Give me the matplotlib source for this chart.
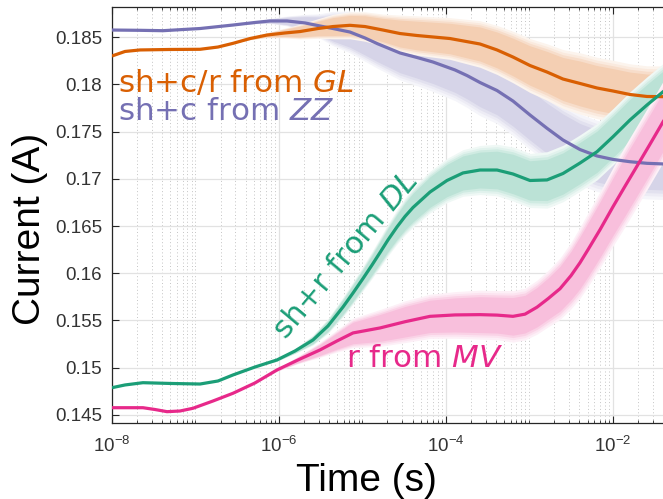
import numpy as np
import matplotlib
matplotlib.use("Agg")
import matplotlib.pyplot as plt
from matplotlib.ticker import FixedLocator, LogLocator, LogFormatterSciNotation, NullFormatter, FixedFormatter
from matplotlib.colors import to_rgb

plt.rcParams['mathtext.fontset'] = 'custom'
plt.rcParams['mathtext.rm'] = 'DejaVu Sans'
plt.rcParams['mathtext.it'] = 'DejaVu Sans:italic'

# ---- sh+c/r from GL (orange) ----
gl_logt = [-8.000, -7.844, -7.664, -7.305, -6.945, -6.730, -6.550, -6.346, -6.142, -5.927,
           -5.747, -5.532, -5.352, -5.149, -4.969, -4.753, -4.549, -4.345, -3.950, -3.590,
           -3.386, -3.195, -2.991, -2.787, -2.596, -2.392, -2.188, -1.996, -1.793, -1.589, -1.380]
gl_cur = [0.18302, 0.18350, 0.18366, 0.18371, 0.18373, 0.18397, 0.18436, 0.18487, 0.18524, 0.18546,
          0.18561, 0.18593, 0.18614, 0.18627, 0.18614, 0.18577, 0.18540, 0.18519, 0.18487, 0.18429,
          0.18366, 0.18291, 0.18201, 0.18132, 0.18058, 0.18011, 0.17963, 0.17931, 0.17894, 0.17873, 0.17871]
gl_spread = [0, 0, 0, 0, 0, 0, 0, 0.0001, 0.0002, 0.0004,
             0.0006, 0.0008, 0.0010, 0.0011, 0.0012, 0.0013, 0.0015, 0.0016, 0.0017, 0.0019,
             0.0020, 0.0021, 0.0022, 0.0023, 0.0024, 0.0025, 0.0025, 0.0025, 0.0025, 0.0025, 0.0025]

# ---- sh+c from ZZ (purple) ----
zz_logt = [-8.000, -7.664, -7.389, -6.945, -6.550, -6.287, -6.107, -5.903, -5.687, -5.508,
           -5.352, -5.149, -4.969, -4.824, -4.549, -4.345, -4.153, -3.890, -3.746, -3.590,
           -3.386, -3.195, -2.991, -2.787, -2.596, -2.392, -2.188, -1.996, -1.793, -1.589, -1.380]
zz_cur = [0.18577, 0.18574, 0.18570, 0.18593, 0.18630, 0.18657, 0.18673, 0.18673, 0.18652, 0.18620,
          0.18593, 0.18556, 0.18493, 0.18434, 0.18334, 0.18286, 0.18238, 0.18154, 0.18095, 0.18021,
          0.17936, 0.17825, 0.17677, 0.17536, 0.17412, 0.17311, 0.17243, 0.17206, 0.17182, 0.17165, 0.17158]
zz_spread = [0, 0, 0, 0, 0, 0.0001, 0.0002, 0.0004, 0.0007, 0.0010,
             0.0014, 0.0017, 0.0019, 0.0020, 0.0022, 0.0023, 0.0024, 0.0025, 0.0026, 0.0027,
             0.0027, 0.0028, 0.0028, 0.0028, 0.0029, 0.0029, 0.0029, 0.0029, 0.0029, 0.0029, 0.0029]

# ---- sh+r from DL (green) ----
dl_logt = [-8.000, -7.844, -7.629, -7.305, -6.945, -6.730, -6.550, -6.287, -6.023, -5.807,
           -5.592, -5.412, -5.232, -5.112, -4.992, -4.884, -4.788, -4.693, -4.585, -4.489,
           -4.393, -4.189, -3.986, -3.794, -3.590, -3.386, -3.195, -2.991, -2.787, -2.596,
           -2.392, -2.188, -1.996, -1.793, -1.589, -1.380]
dl_cur = [0.14788, 0.14817, 0.14841, 0.14833, 0.14827, 0.14859, 0.14923, 0.15007, 0.15082, 0.15177,
          0.15293, 0.15442, 0.15643, 0.15791, 0.15945, 0.16088, 0.16220, 0.16353, 0.16491, 0.16602,
          0.16697, 0.16861, 0.16983, 0.17063, 0.17094, 0.17094, 0.17052, 0.16983, 0.16989, 0.17057,
          0.17168, 0.17288, 0.17447, 0.17624, 0.17783, 0.17935]
dl_spread = [0, 0, 0, 0, 0, 0, 0, 0, 0.0001, 0.0002,
             0.0004, 0.0006, 0.0008, 0.0009, 0.0010, 0.0011, 0.0012, 0.0013, 0.0014, 0.0015,
             0.0016, 0.0017, 0.0018, 0.0019, 0.0020, 0.0021, 0.0022, 0.0022, 0.0023, 0.0023,
             0.0023, 0.0023, 0.0023, 0.0023, 0.0023, 0.0023]

# ---- r from MV (pink) ----
mv_logt = [-8.000, -7.784, -7.629, -7.485, -7.341, -7.185, -7.030, -6.790, -6.550, -6.287,
           -6.023, -5.771, -5.508, -5.304, -5.112, -4.788, -4.488, -4.189, -3.889, -3.590,
           -3.386, -3.195, -3.051, -2.907, -2.775, -2.631, -2.500, -2.392, -2.296, -2.152,
           -1.996, -1.852, -1.709, -1.553, -1.380]
mv_cur = [0.14576, 0.14576, 0.14576, 0.14557, 0.14534, 0.14541, 0.14570, 0.14647, 0.14729, 0.14838,
          0.14976, 0.15082, 0.15188, 0.15283, 0.15368, 0.15421, 0.15487, 0.15544, 0.15559, 0.15562,
          0.15557, 0.15544, 0.15567, 0.15641, 0.15731, 0.15837, 0.15975, 0.16112, 0.16250, 0.16462,
          0.16706, 0.16923, 0.17135, 0.17368, 0.17630]
mv_spread = [0, 0, 0, 0, 0, 0, 0, 0, 0, 0,
             0.0001, 0.0003, 0.0006, 0.0009, 0.0012, 0.0015, 0.0017, 0.0018, 0.0019, 0.0020,
             0.0020, 0.0021, 0.0021, 0.0022, 0.0023, 0.0025, 0.0027, 0.0029, 0.0030, 0.0031,
             0.0032, 0.0033, 0.0033, 0.0033, 0.0033]

col_gl = '#d95f02'
col_zz = '#7570b3'
col_dl = '#1b9e77'
col_mv = '#e7298a'

yticks = [0.145, 0.15, 0.155, 0.16, 0.165, 0.17, 0.175, 0.18, 0.185]
ytick_labels = ['0.145', '0.15', '0.155', '0.16', '0.165', '0.17', '0.175', '0.18', '0.185']
xticks = [1e-8, 1e-6, 1e-4, 1e-2]


def tint(c, a):
    rgb = np.array(to_rgb(c))
    return tuple(a * rgb + (1 - a))


fig = plt.figure(figsize=(6.63, 4.99), dpi=100)
ax = fig.add_axes([112 / 663, 76 / 499, 558 / 663, 416 / 499])

ax.set_xscale('log')
ax.set_xlim(1e-8, 10 ** -1.3134)
ax.set_ylim(0.14414, 0.18821)

# grids
ax.grid(True, which='major', color='#e2e2e2', linewidth=0.9, linestyle='-', zorder=0)
ax.xaxis.grid(True, which='minor', color='#c4c4c4', linewidth=0.7, linestyle=(0, (1, 2.5)), zorder=0)
ax.set_axisbelow(True)

series = [
    (zz_logt, zz_cur, zz_spread, col_zz),
    (gl_logt, gl_cur, gl_spread, col_gl),
    (dl_logt, dl_cur, dl_spread, col_dl),
    (mv_logt, mv_cur, mv_spread, col_mv),
]

# scatter envelopes: graded halo fading out to the dense core
halo = [(1.30, 0.07), (1.18, 0.13), (1.07, 0.21), (0.95, 0.30)]
for k, (lt, cur, sp, c) in enumerate(series):
    t = 10.0 ** np.array(lt)
    cur = np.array(cur)
    sp = np.array(sp)
    for j, (f, a) in enumerate(halo):
        ax.fill_between(t, cur - f * sp, cur + f * sp, color=tint(c, a),
                        linewidth=0, zorder=1 + k * 0.1 + j * 0.01)

for lt, cur, sp, c in series:
    ax.plot(10.0 ** np.array(lt), cur, color=c, linewidth=2.3, zorder=3,
            solid_capstyle='butt', solid_joinstyle='round')

# ticks
tick_col = '#333333'
ax.xaxis.set_major_locator(FixedLocator(xticks))
ax.xaxis.set_major_formatter(LogFormatterSciNotation())
ax.xaxis.set_minor_locator(LogLocator(base=10, subs=np.arange(1, 10), numticks=100))
ax.xaxis.set_minor_formatter(NullFormatter())
ax.yaxis.set_major_locator(FixedLocator(yticks))
ax.yaxis.set_major_formatter(FixedFormatter(ytick_labels))

ax.tick_params(axis='both', which='major', direction='in', length=5, width=0.8,
               color='#262626', labelcolor=tick_col, labelsize=13.5,
               top=True, right=True)
ax.tick_params(axis='x', which='major', pad=9)
ax.tick_params(axis='y', which='major', pad=7)
ax.tick_params(axis='x', which='minor', direction='in', length=2.5, width=0.6,
               color='#262626', top=True)
for lab in ax.get_xticklabels() + ax.get_yticklabels():
    lab.set_fontfamily('Liberation Sans')

for s in ax.spines.values():
    s.set_color('#262626')
    s.set_linewidth(0.9)

# axis titles
fig.text(366.5 / 663, (499 - 491) / 499, 'Time (s)', fontsize=28,
         family='Liberation Sans', ha='center', va='baseline', color='black')
fig.text(40 / 663, (499 - 229) / 499, 'Current (A)', fontsize=28,
         family='Liberation Sans', ha='center', va='baseline', rotation=90,
         rotation_mode='anchor', color='black')

# curve annotations
fs = 22.3
ax.text(10 ** -7.93, 0.17921, 'sh+c/r from $\\mathit{GL}$', color=col_gl, fontsize=fs,
        family='DejaVu Sans', ha='left', va='baseline', zorder=5)
ax.text(10 ** -7.93, 0.17624, 'sh+c from $\\mathit{ZZ}$', color=col_zz, fontsize=fs,
        family='DejaVu Sans', ha='left', va='baseline', zorder=5)
ax.text(10 ** -5.196, 0.15007, 'r from $\\mathit{MV}$', color=col_mv, fontsize=fs,
        family='DejaVu Sans', ha='left', va='baseline', zorder=5)
ax.text(10 ** -5.20, 0.16194, 'sh+r from $\\mathit{DL}$', color=col_dl, fontsize=fs,
        family='DejaVu Sans', ha='center', va='center', rotation=50,
        rotation_mode='anchor', zorder=5)

fig.savefig('out.png', dpi=100)
